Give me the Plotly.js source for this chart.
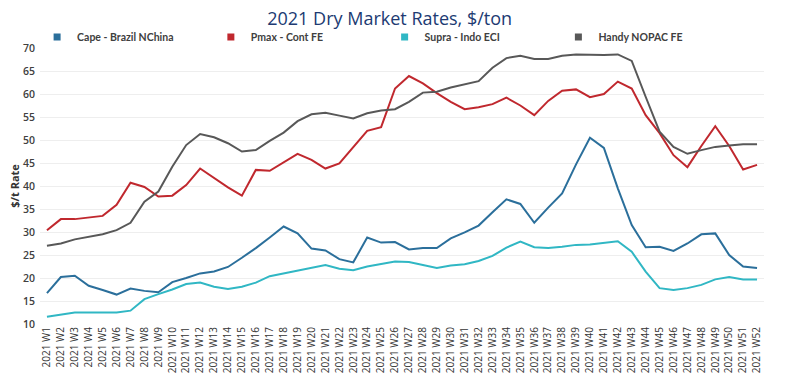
<!DOCTYPE html>
<html>
<head>
<meta charset="utf-8">
<script src="https://cdn.plot.ly/plotly-3.0.1.min.js"></script>
<style>html,body{margin:0;padding:0;background:#fff;}#chart{width:796px;height:385px;}</style>
</head>
<body>
<div id="chart"></div>
<script>
const weeks = [];
for (let i = 1; i <= 52; i++) weeks.push("2021 W" + i);

const capeName = "Cape - Brazil NChina";
const pmaxName = "Pmax - Cont FE";
const supraName = "Supra - Indo ECI";
const handyName = "Handy NOPAC FE";

const cape = [16.7,20.2,20.5,18.3,17.4,16.4,17.7,17.2,16.9,19.1,20.0,21.0,21.4,22.4,24.4,26.5,28.8,31.2,29.7,26.4,26.0,24.1,23.4,28.8,27.7,27.8,26.2,26.5,26.5,28.6,29.9,31.4,34.3,37.1,36.1,32.0,35.3,38.4,44.7,50.5,48.3,39.5,31.5,26.7,26.8,25.9,27.5,29.5,29.7,25.0,22.5,22.2];
const pmax = [30.4,32.8,32.8,33.1,33.5,35.9,40.7,39.8,37.7,37.9,40.2,43.8,41.7,39.7,37.9,43.5,43.3,45.2,47.0,45.7,43.8,44.9,48.5,52.0,52.8,61.2,63.9,62.3,60.2,58.3,56.7,57.1,57.8,59.2,57.5,55.4,58.5,60.7,61.0,59.3,60.0,62.7,61.2,55.4,51.5,46.7,44.1,48.7,53.0,48.7,43.6,44.6];
const supra = [11.6,12.0,12.5,12.5,12.5,12.5,12.9,15.4,16.5,17.5,18.7,19.0,18.1,17.6,18.1,19.0,20.4,21.0,21.7,22.3,22.8,22.0,21.7,22.5,23.0,23.6,23.5,22.8,22.2,22.7,23.0,23.7,24.8,26.6,27.9,26.7,26.5,26.8,27.2,27.3,27.7,28.0,25.7,21.4,17.8,17.4,17.8,18.5,19.7,20.2,19.7,19.7];
const handy = [27.0,27.5,28.4,29.0,29.5,30.4,32.0,36.6,38.8,44.2,48.9,51.3,50.6,49.3,47.5,47.8,49.8,51.6,54.1,55.6,55.9,55.3,54.7,55.8,56.4,56.7,58.3,60.3,60.5,61.4,62.1,62.8,65.7,67.8,68.3,67.6,67.6,68.3,68.6,68.5,68.5,68.6,67.2,59.4,51.8,48.5,47.0,47.8,48.5,48.8,49.1,49.1];

const yTicks = [10,15,20,25,30,35,40,45,50,55,60,65,70];

const series = [
  {name: capeName, y: cape, color: "#2b6f9b"},
  {name: pmaxName, y: pmax, color: "#c0282e"},
  {name: supraName, y: supra, color: "#30b7c4"},
  {name: handyName, y: handy, color: "#585858"}
];

const legendIds = ["legend", "legend2", "legend3", "legend4"];
const legendX = [-0.004, 0.236, 0.476, 0.716];

const traces = [];
series.forEach(s => {
  traces.push({
    type: "scatter", mode: "lines", x: weeks, y: s.y, name: s.name,
    line: {color: s.color, width: 2}, showlegend: false
  });
});
series.forEach((s, i) => {
  traces.push({
    type: "scatter", mode: "markers", x: [null], y: [null], name: s.name,
    marker: {symbol: "square", size: 7, color: s.color}, showlegend: true,
    legend: legendIds[i]
  });
});

const fontFam = "'Open Sans', 'Noto Sans', sans-serif";
const legFont = {family: "Lato, 'Open Sans', sans-serif", size: 10.5, color: "#404040", weight: 700};

const layout = {
  width: 796, height: 385,
  margin: {l: 40, r: 32, t: 48, b: 61, pad: 0},
  paper_bgcolor: "#ffffff", plot_bgcolor: "#ffffff",
  font: {family: fontFam, color: "#404040"},
  title: {
    text: "2021 Dry Market Rates, $/ton",
    font: {family: fontFam, size: 18, color: "#203a72"},
    x: 0.483, xref: "paper", xanchor: "center",
    y: 0.952, yref: "container", yanchor: "middle"
  },
  showlegend: true,
  xaxis: {
    type: "category", range: [-0.5, 51.5],
    tickangle: -90, tickfont: {family: fontFam, size: 10, color: "#333333"},
    showgrid: false, showline: false, zeroline: false, ticks: "",
    fixedrange: true, automargin: false
  },
  yaxis: {
    range: [10, 70], tickvals: yTicks, ticktext: yTicks.map(String),
    tickfont: {family: fontFam, size: 10.5, color: "#404040", weight: 600},
    showgrid: true, gridcolor: "#eeeeee", gridwidth: 1,
    zeroline: false, showline: false, ticks: "", ticklabelstandoff: 4,
    title: {text: "$/t Rate", font: {family: fontFam, size: 11, color: "#333333", weight: 700}, standoff: 1},
    automargin: false, fixedrange: true
  },
  annotations: [
    {
      text: "SIGNAL", xref: "paper", yref: "container",
      x: 1.043, y: 0.95, xanchor: "right", yanchor: "middle", showarrow: false,
      font: {family: fontFam, size: 27, color: "#1a2e46"}
    },
    {
      text: "™", xref: "paper", yref: "container",
      x: 1.056, y: 0.975, xanchor: "right", yanchor: "middle", showarrow: false,
      font: {family: fontFam, size: 6, color: "#1a2e46"}
    }
  ]
};

legendIds.forEach((id, i) => {
  layout[id] = {
    orientation: "h", x: legendX[i], xanchor: "left",
    y: 0.987, yanchor: "bottom", font: legFont,
    itemwidth: 30, bgcolor: "rgba(0,0,0,0)"
  };
});

Plotly.newPlot("chart", traces, layout, {displayModeBar: false, staticPlot: true});
</script>
</body>
</html>
